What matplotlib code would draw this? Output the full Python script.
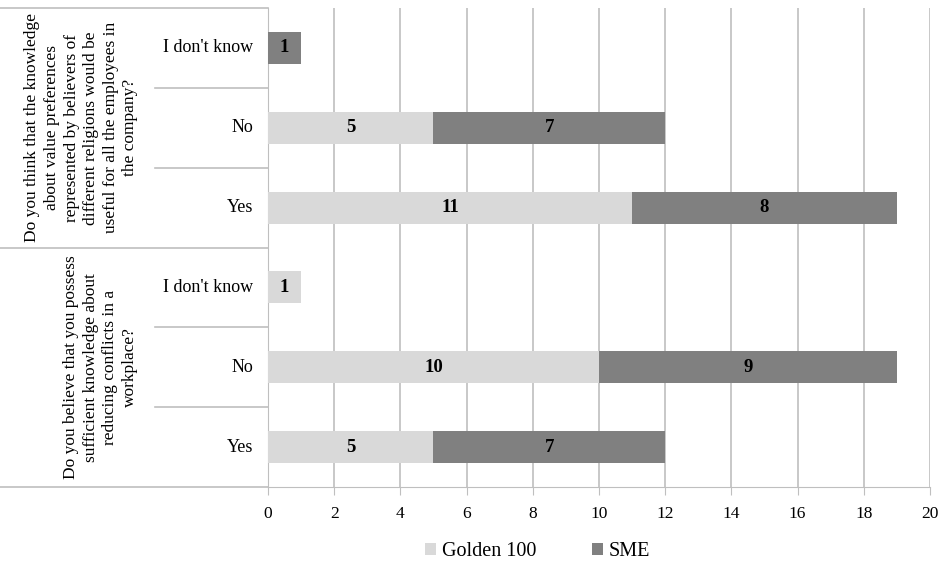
import matplotlib.pyplot as plt
import matplotlib.transforms as mtransforms

plt.rcParams['font.family'] = ['Liberation Serif', 'DejaVu Serif']

# bottom-to-top order, as plotted
categories = ['Yes', 'No', "I don't know", 'Yes', 'No', "I don't know"]
golden_100 = [5, 10, 1, 11, 5, 0]
sme = [7, 9, 0, 8, 7, 1]

questions = [
    'Do you believe that you possess\nsufficient knowledge about\nreducing conflicts in a\nworkplace?',
    'Do you think that the knowledge\nabout value preferences\nrepresented by believers of\ndifferent religions would be\nuseful for all the employees in\nthe company?',
]

light = '#d9d9d9'
dark = '#808080'
line_col = '#bfbfbf'

fig = plt.figure(figsize=(9.41, 5.74), dpi=100)
ax = fig.add_axes([0.2848, 0.1516, 0.7035, 0.8344])

y = list(range(len(categories)))
ax.barh(y, golden_100, height=0.4, color=light, label='Golden 100', zorder=3)
ax.barh(y, sme, left=golden_100, height=0.4, color=dark, label='SME', zorder=3)

for i in y:
    if golden_100[i]:
        ax.text(golden_100[i] / 2, i, str(golden_100[i]), ha='center', va='center',
                fontsize=13.5, fontweight='bold', zorder=4)
    if sme[i]:
        ax.text(golden_100[i] + sme[i] / 2, i, str(sme[i]), ha='center', va='center',
                fontsize=13.5, fontweight='bold', zorder=4)

ax.set_xlim(0, 20)
ax.set_ylim(-0.5, 5.5)
ax.set_xticks(range(0, 21, 2))
ax.set_yticks([])
ax.grid(axis='x', color=line_col, linewidth=1.2, zorder=0)
for s in ['top', 'right']:
    ax.spines[s].set_visible(False)
ax.spines['left'].set_color(line_col)
ax.spines['bottom'].set_color(line_col)
ax.tick_params(axis='x', colors=line_col, length=6, direction='out', pad=8,
               labelcolor='black', labelsize=12.5)

# category labels and the boxes around them
trans = mtransforms.blended_transform_factory(ax.transAxes, ax.transData)
for i, name in enumerate(categories):
    ax.text(-0.022, i, name, transform=trans, ha='right', va='center', fontsize=13)
for b in [0.5, 1.5, 3.5, 4.5]:
    ax.plot([-0.171, 0], [b, b], transform=trans, color=line_col, lw=1.2, clip_on=False)
for b in [-0.5, 2.5, 5.5]:
    ax.plot([-0.405, 0], [b, b], transform=trans, color=line_col, lw=1.2, clip_on=False)

# question labels, rotated
ax.text(-0.253, 1, questions[0], transform=trans, rotation=90, ha='center', va='center',
        multialignment='center', fontsize=12.5, linespacing=1.3)
ax.text(-0.282, 4, questions[1], transform=trans, rotation=90, ha='center', va='center',
        multialignment='center', fontsize=12.5, linespacing=1.3)

fig.legend(loc='center', bbox_to_anchor=(0.571, 0.039), ncol=2, frameon=False,
           fontsize=14.5, handlelength=0.55, handleheight=0.55, handletextpad=0.3,
           columnspacing=2.75)

fig.savefig('out.png', dpi=100)
